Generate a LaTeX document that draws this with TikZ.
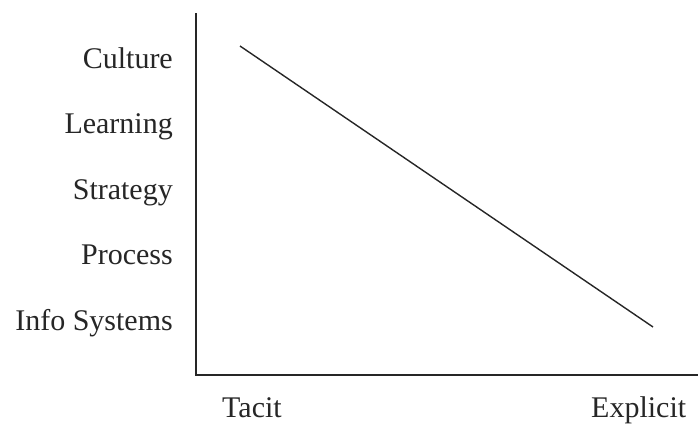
\documentclass[tikz,border=0pt]{standalone}
\usepackage{fontspec}
\setmainfont{Liberation Serif}
\begin{document}
\begin{tikzpicture}[x=1pt,y=-1pt,
  lbl/.style={inner sep=0pt,font=\fontsize{30}{36}\selectfont,text=black!85},
  ax/.style={line width=1.6pt,draw=black!85}]
\useasboundingbox (0,0) rectangle (698,423);
\coordinate (top) at (196,13);
\coordinate (origin) at (196,375);
\coordinate (right) at (698,375);
\coordinate (d1) at (240,46);
\coordinate (d2) at (653,327);
\draw[ax] (top) -- (origin) -- (right);
\draw[ax,line width=1.4pt] (d1) -- (d2);
\node[lbl,anchor=base east] (c) at (173,68) {Culture};
\node[lbl,anchor=base east] (l) at (173,133) {Learning};
\node[lbl,anchor=base east] (s) at (173,199) {Strategy};
\node[lbl,anchor=base east] (p) at (173,264) {Process};
\node[lbl,anchor=base east] (i) at (173,330) {Info Systems};
\node[lbl,anchor=base west] (t) at (222,417) {Tacit};
\node[lbl,anchor=base west] (e) at (591,417) {Explicit};
\end{tikzpicture}
\end{document}
